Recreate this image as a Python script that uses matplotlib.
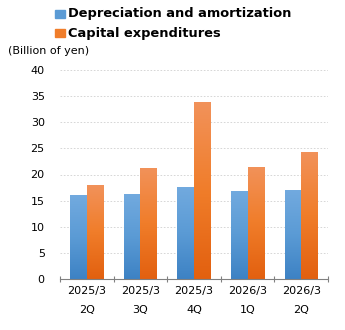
import matplotlib.pyplot as plt
import numpy as np
from matplotlib.colors import LinearSegmentedColormap

plt.rcParams["font.family"] = "DejaVu Sans"

periods = ['2025/3\n\n2Q', '2025/3\n\n3Q', '2025/3\n\n4Q', '2026/3\n\n1Q', '2026/3\n\n2Q']
depreciation = [16.0, 16.3, 17.7, 16.9, 17.1]
capex = [17.9, 21.3, 33.8, 21.5, 24.4]

W, H = 345, 330
fig = plt.figure(figsize=(W / 100, H / 100), dpi=100)
# axes box in pixels: left 60, right 328, bottom 279, top 70
ax = fig.add_axes([60 / W, 1 - 279 / H, (328 - 60) / W, (279 - 70) / H])

blue_cm = LinearSegmentedColormap.from_list('b', ['#3d82c4', '#5b9bd5', '#72aadf'])
orange_cm = LinearSegmentedColormap.from_list('o', ['#e2600f', '#f07d2a', '#f2925a'])

x = np.arange(len(periods))
bw = 0.31
grad = np.linspace(0, 1, 256).reshape(-1, 1)


def gradient_bars(xs, vals, cmap):
    bars = ax.bar(xs, vals, bw, color='none', edgecolor='none', zorder=2)
    for b in bars:
        x0, y0 = b.get_x(), b.get_y()
        im = ax.imshow(grad, cmap=cmap, origin='lower', aspect='auto',
                       extent=[x0, x0 + b.get_width(), y0, y0 + b.get_height()],
                       zorder=2)
        im.set_clip_path(b)
    return bars


gradient_bars(x - bw / 2, depreciation, blue_cm)
gradient_bars(x + bw / 2, capex, orange_cm)

ax.set_xlim(-0.5, len(periods) - 0.5)
ax.set_ylim(0, 40)
ax.set_yticks(range(0, 41, 5))
ax.yaxis.grid(True, color='#d0d0d0', linestyle=(0, (2, 2)), linewidth=0.6)
ax.set_axisbelow(True)
for s in ['top', 'right', 'left']:
    ax.spines[s].set_visible(False)
ax.spines['bottom'].set_color('#808080')
ax.tick_params(axis='y', length=0, labelsize=8, pad=11, colors='#000000')
ax.set_xticks(np.arange(len(periods) + 1) - 0.5)
ax.set_xticklabels([])
ax.set_xticks(x, minor=True)
ax.set_xticklabels(periods, minor=True, fontsize=8, linespacing=0.95)
ax.tick_params(axis='x', which='major', length=5, direction='inout', color='#808080')
ax.tick_params(axis='x', which='minor', length=0, pad=5)

fig.text(8 / W, 1 - 51 / H, '(Billion of yen)', fontsize=8, va='center', ha='left')

# legend
fig.patches.append(plt.Rectangle((55 / W, 1 - 18 / H), 10 / W, 8 / H,
                                 transform=fig.transFigure, color='#5b9bd5'))
fig.patches.append(plt.Rectangle((55 / W, 1 - 37 / H), 10 / W, 8 / H,
                                 transform=fig.transFigure, color='#f07d2a'))
fig.text(68 / W, 1 - 17 / H, 'Depreciation and amortization', fontsize=9.4,
         fontweight='bold', va='baseline', ha='left')
fig.text(68 / W, 1 - 37 / H, 'Capital expenditures', fontsize=9.4,
         fontweight='bold', va='baseline', ha='left')

fig.savefig('out.png', dpi=100)
